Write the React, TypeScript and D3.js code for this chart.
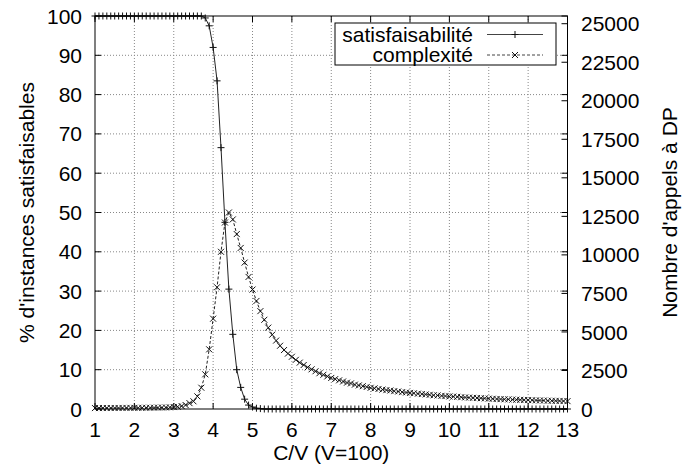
import React from "react";
import * as d3 from "d3";

const W = 682;
const H = 465;

// C/V ratio, step 0.1 from 1 to 13
const cv: number[] = d3.range(0, 121).map((i) => +(1 + i * 0.1).toFixed(1));

// % d'instances satisfaisables
const satisfaisabilite: number[] = [
  100, 100, 100, 100, 100, 100, 100, 100, 100, 100,
  100, 100, 100, 100, 100, 100, 100, 100, 100, 100,
  100, 100, 100, 100, 100, 100, 100, 100,
  99.5, 97.5, 92, 83.5, 66.5, 47.5, 30.5, 19, 10, 5.5, 2.5, 1, 0.5, 0.2, 0.1,
  0, 0, 0, 0, 0, 0, 0, 0, 0, 0,
  0, 0, 0, 0, 0, 0, 0, 0, 0, 0,
  0, 0, 0, 0, 0, 0, 0, 0, 0, 0,
  0, 0, 0, 0, 0, 0, 0, 0, 0, 0,
  0, 0, 0, 0, 0, 0, 0, 0, 0, 0,
  0, 0, 0, 0, 0, 0, 0, 0, 0, 0,
  0, 0, 0, 0, 0, 0, 0, 0, 0, 0,
  0, 0, 0, 0, 0, 0, 0, 0,
];

// Nombre d'appels à DP
const complexite: number[] = [
  60, 60, 62, 63, 64, 65, 66, 68, 70, 72, 74, 76, 78, 80, 83, 86,
  90, 95, 100, 110, 125,
  150, 190, 260, 380, 500, 820, 1380, 2250, 3870,
  5860, 7900, 10200, 12100, 12750, 12300, 11350, 10450, 9500, 8570,
  7750, 7010, 6350, 5790, 5280, 4820, 4440, 4105, 3825, 3595,
  3390, 3190, 3010, 2855, 2700, 2575, 2450, 2320, 2220, 2115,
  2015, 1940, 1860, 1785, 1710, 1660, 1580, 1530, 1480, 1430,
  1375, 1340, 1300, 1260, 1225, 1200, 1160, 1135, 1095, 1070,
  1045, 1020, 995, 970, 945, 920, 890, 880, 855, 840,
  815, 805, 790, 765, 750, 740, 725, 715, 700, 690,
  675, 665, 650, 640, 630, 625, 610, 605, 595, 585,
  580, 570, 560, 555, 550, 540, 535, 530, 525, 515,
  510,
];

const xTicks = [1, 2, 3, 4, 5, 6, 7, 8, 9, 10, 11, 12, 13];
const yTicks = [0, 10, 20, 30, 40, 50, 60, 70, 80, 90, 100];
const y2Ticks = [0, 2500, 5000, 7500, 10000, 12500, 15000, 17500, 20000, 22500, 25000];

const xTitle = "C/V (V=100)";
const yTitle = "% d'instances satisfaisables";
const y2Title = "Nombre d'appels à DP";
const legendLabels = ["satisfaisabilité", "complexité"];

const L = 95, R = 567.5, T = 16, B = 409;
const FONT = "'Liberation Sans', Arial, Helvetica, sans-serif";
const FS = 21;

export default function App() {
  const x = d3.scaleLinear().domain([1, 13]).range([L, R]);
  const y = d3.scaleLinear().domain([0, 100]).range([B, T]);
  const y2 = d3.scaleLinear().domain([0, 25500]).range([B, T]);

  const satPts = cv.map((c, i) => [x(c), y(satisfaisabilite[i])] as [number, number]);
  const cxPts = cv.map((c, i) => [x(c), y2(complexite[i])] as [number, number]);
  const line = d3.line();

  const plus = (px: number, py: number, k: string) => (
    <path key={k} d={`M${px - 3.5},${py}H${px + 3.5}M${px},${py - 3.5}V${py + 3.5}`} stroke="#111" strokeWidth={1} fill="none" />
  );
  const cross = (px: number, py: number, k: string) => (
    <path key={k} d={`M${px - 3},${py - 3}L${px + 3},${py + 3}M${px - 3},${py + 3}L${px + 3},${py - 3}`} stroke="#111" strokeWidth={1} fill="none" />
  );

  const tl = 6;
  const lgX0 = 335, lgX1 = 556, lgY0 = 23, lgY1 = 65;
  const row1 = 34.5, row2 = 55;

  return (
    <svg width={W} height={H} style={{ position: "absolute", left: 0, top: 0, background: "#fff" }} fontFamily={FONT}>
      <rect x={0} y={0} width={W} height={H} fill="#fff" />
      {/* grid */}
      <g stroke="#888" strokeWidth={1} strokeDasharray="1,2">
        {xTicks.slice(1, -1).map((t) => (
          <line key={"gx" + t} x1={x(t)} x2={x(t)} y1={T} y2={B} />
        ))}
        {yTicks.slice(1, -1).map((t) => (
          <line key={"gy" + t} x1={L} x2={R} y1={y(t)} y2={y(t)} />
        ))}
      </g>
      {/* ticks */}
      <g stroke="#000" strokeWidth={1}>
        {xTicks.map((t) => (
          <g key={"tx" + t}>
            <line x1={x(t)} x2={x(t)} y1={B} y2={B - tl} />
            <line x1={x(t)} x2={x(t)} y1={T} y2={T + tl} />
          </g>
        ))}
        {yTicks.map((t) => (
          <g key={"ty" + t}>
            <line x1={L} x2={L + tl} y1={y(t)} y2={y(t)} />
            <line x1={R} x2={R - tl} y1={y(t)} y2={y(t)} />
          </g>
        ))}
        {y2Ticks.map((t) => (
          <line key={"ty2" + t} x1={R} x2={R - tl} y1={y2(t)} y2={y2(t)} />
        ))}
      </g>
      {/* series */}
      <path d={line(cxPts) || ""} fill="none" stroke="#222" strokeWidth={1} strokeDasharray="3,2" />
      <path d={line(satPts) || ""} fill="none" stroke="#222" strokeWidth={1} />
      {cxPts.map((p, i) => cross(p[0], p[1], "c" + i))}
      {satPts.map((p, i) => plus(p[0], p[1], "s" + i))}
      {/* border */}
      <rect x={L} y={T} width={R - L} height={B - T} fill="none" stroke="#000" strokeWidth={1} />
      {/* legend */}
      <rect x={lgX0} y={lgY0} width={lgX1 - lgX0} height={lgY1 - lgY0} fill="#fff" stroke="#000" strokeWidth={1} />
      <text x={473} y={row1} dy="0.35em" textAnchor="end" fontSize={FS}>{legendLabels[0]}</text>
      <text x={473} y={row2} dy="0.35em" textAnchor="end" fontSize={FS}>{legendLabels[1]}</text>
      <line x1={487} x2={543} y1={row1} y2={row1} stroke="#444" strokeWidth={1} />
      {plus(515, row1, "lp")}
      <line x1={487} x2={543} y1={row2} y2={row2} stroke="#444" strokeWidth={1} strokeDasharray="3,2" />
      {cross(515, row2, "lc")}
      {/* tick labels */}
      <g fontSize={FS} fill="#000">
        {yTicks.map((t) => (
          <text key={"ly" + t} x={82} y={y(t)} dy="0.36em" textAnchor="end">{t}</text>
        ))}
        {y2Ticks.map((t) => (
          <text key={"ly2" + t} x={581} y={y2(t)} dy="0.36em" textAnchor="start">{t}</text>
        ))}
        {xTicks.map((t) => (
          <text key={"lx" + t} x={x(t)} y={437} textAnchor="middle">{t}</text>
        ))}
      </g>
      {/* titles */}
      <text x={(L + R) / 2} y={459.5} textAnchor="middle" fontSize={FS}>{xTitle}</text>
      <text transform={`translate(34,${(T + B) / 2}) rotate(-90)`} textAnchor="middle" fontSize={FS}>{yTitle}</text>
      <text transform={`translate(677,${(T + B) / 2}) rotate(-90)`} textAnchor="middle" fontSize={FS}>{y2Title}</text>
    </svg>
  );
}
